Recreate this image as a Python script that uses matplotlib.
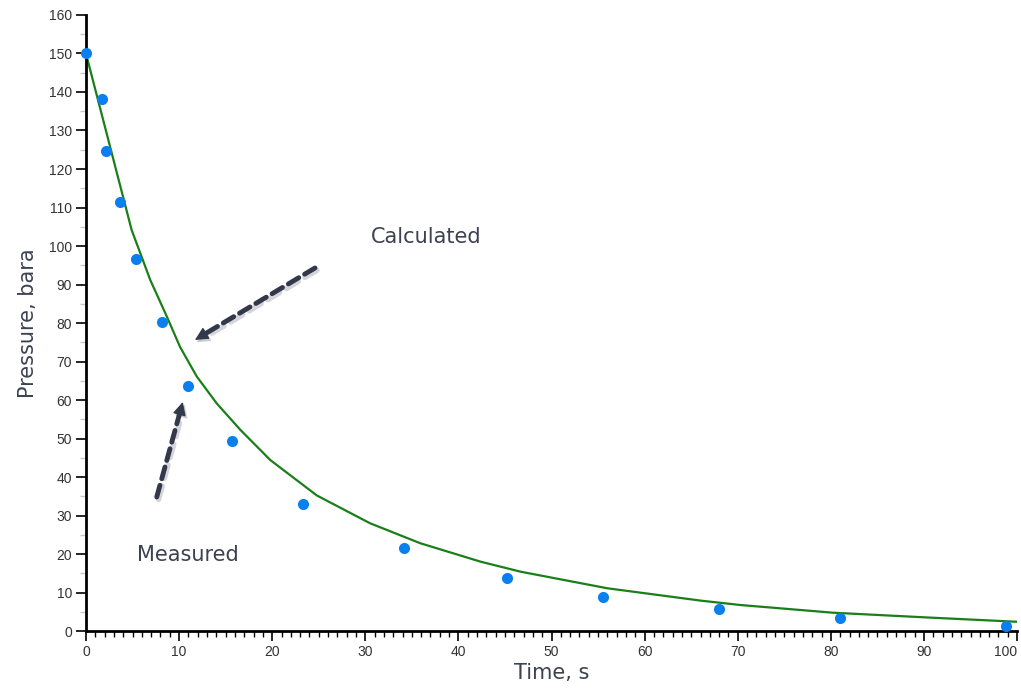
import numpy as np
import matplotlib.pyplot as plt
from matplotlib.ticker import MultipleLocator

# measured points (time in s, pressure in bara)
measured_t = [0, 1.7, 2.15, 3.65, 5.4, 8.2, 11.0, 15.7, 23.3, 34.2, 45.2, 55.5, 68.0, 81.0, 98.8]
measured_p = [150, 138.2, 124.7, 111.4, 96.6, 80.3, 63.6, 49.4, 33.0, 21.6, 13.8, 8.8, 5.7, 3.4, 1.3]

# calculated curve
calc_t = [0, 4.9, 6.9, 8.7, 10.1, 11.9, 14.05, 16.6, 19.8, 24.8, 30.5, 35.9, 42.4, 46.7, 56.0, 66.0, 70.3, 80.2, 90.1, 100]
calc_p = [150, 104.2, 91.2, 81.6, 73.8, 66.1, 59.1, 52.2, 44.4, 35.2, 28.0, 22.8, 18.0, 15.4, 11.1, 7.9, 6.75, 4.76, 3.55, 2.4]

text_col = '#3c4252'
arrow_col = '#33384a'

fig = plt.figure(figsize=(10.21, 6.91), dpi=100)
ax = fig.add_axes([0.0842, 0.0868, 0.912, 0.8915])

ax.plot(calc_t, calc_p, color='#1a7f1a', lw=1.6, zorder=2)
ax.plot(measured_t, measured_p, 'o', color='#0a80f0', ms=8, mec='none', zorder=3, clip_on=False)

ax.set_xlim(0, 100)
ax.set_ylim(0, 160)
ax.set_xticks(range(0, 101, 10))
ax.set_yticks(range(0, 161, 10))
ax.xaxis.set_minor_locator(MultipleLocator(1))
ax.yaxis.set_minor_locator(MultipleLocator(5))

for s in ['top', 'right']:
    ax.spines[s].set_visible(False)
for s in ['left', 'bottom']:
    ax.spines[s].set_linewidth(2)

ax.tick_params(axis='both', which='major', length=7, width=1.2, labelsize=10,
               labelcolor='#333333', pad=3, labelfontfamily='Liberation Sans')
ax.tick_params(axis='x', which='minor', length=4, width=1)
ax.tick_params(axis='y', which='minor', length=4, width=1, color='#c8c8c8')

# keep the last x label inside the figure
ax.get_xticklabels()[-1].set_horizontalalignment('right')

ax.set_xlabel('Time, s', fontsize=15, color=text_col, labelpad=3)
ax.set_ylabel('Pressure, bara', fontsize=15, color=text_col, labelpad=8)

# dashed annotation arrows (solid heads) with a soft shadow
arrows = [((24.6, 94.3), (11.7, 75.6)), ((7.6, 34.8), (10.4, 59.5))]
head_px = 13
for start, end in arrows:
    s_px = ax.transData.transform(start)
    e_px = ax.transData.transform(end)
    d = e_px - s_px
    neck_px = e_px - d / np.hypot(*d) * head_px
    neck = ax.transData.inverted().transform(neck_px)
    for dx, dy, col, lw, alpha in [(0.2, -0.6, '#b8bcc4', 4, 0.6), (0, 0, arrow_col, 3.5, 1)]:
        ax.annotate('', xy=(neck[0] + dx, neck[1] + dy), xytext=(start[0] + dx, start[1] + dy),
                    arrowprops=dict(arrowstyle='-', color=col, lw=lw, ls=(0, (2.5, 1.4)),
                                    shrinkA=0, shrinkB=0, alpha=alpha))
        ax.annotate('', xy=(end[0] + dx, end[1] + dy), xytext=(neck[0] + dx, neck[1] + dy),
                    arrowprops=dict(arrowstyle='-|>', color=col, lw=1, mutation_scale=20,
                                    shrinkA=0, shrinkB=0, alpha=alpha))

ax.text(36.5, 102.3, 'Calculated', fontsize=15, color=text_col, ha='center', va='center')
ax.text(10.9, 19.7, 'Measured', fontsize=15, color=text_col, ha='center', va='center')

fig.savefig('out.png', dpi=100)
